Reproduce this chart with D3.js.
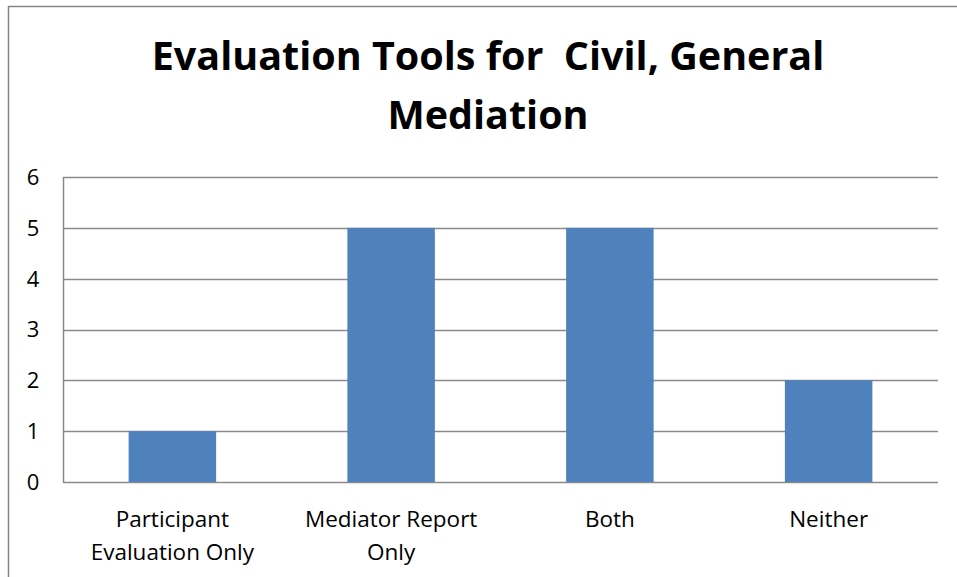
<!DOCTYPE html>
<html><head><meta charset="utf-8">
<script src="https://cdn.jsdelivr.net/npm/d3@7"></script>
<style>html,body{margin:0;padding:0;background:#fff;}svg{display:block;}</style>
</head><body>
<svg id="chart" width="957" height="577"></svg>
<script>
const categories = ["Participant Evaluation Only", "Mediator Report Only", "Both", "Neither"];
const categoryLines = [["Participant", "Evaluation Only"], ["Mediator Report", "Only"], ["Both"], ["Neither"]];
const values = [1, 5, 5, 2];
const yTicks = [0, 1, 2, 3, 4, 5, 6];
const titleLines = ["Evaluation Tools for  Civil, General", "Mediation"];

const svg = d3.select("#chart");
const W = 957, H = 577;
const m = {left: 63, right: 938, top: 177, bottom: 482};
const font = "'Open Sans', 'Noto Sans', sans-serif";

svg.append("rect").attr("width", W).attr("height", H).attr("fill", "#fff");
svg.append("rect").attr("x", 8.5).attr("y", 6.5).attr("width", 1000).attr("height", 700)
  .attr("fill", "none").attr("stroke", "#868686").attr("stroke-width", 1.5);

const x = d3.scaleBand().domain(categories).range([m.left, m.right]).paddingInner(0.6).paddingOuter(0.3);
const y = d3.scaleLinear().domain([0, 6]).range([m.bottom, m.top]);

// gridlines
svg.append("g").selectAll("line").data(yTicks).join("line")
  .attr("x1", m.left).attr("x2", m.right)
  .attr("y1", d => Math.round(y(d)) + 0.5).attr("y2", d => Math.round(y(d)) + 0.5)
  .attr("stroke", "#8a8a8a").attr("stroke-width", 1.5);
// vertical axis line
svg.append("line").attr("x1", m.left + 0.5).attr("x2", m.left + 0.5)
  .attr("y1", m.top).attr("y2", m.bottom + 1).attr("stroke", "#8a8a8a").attr("stroke-width", 1.5);

// bars
svg.append("g").selectAll("rect").data(values).join("rect")
  .attr("x", (d, i) => x(categories[i]))
  .attr("width", x.bandwidth())
  .attr("y", d => y(d))
  .attr("height", d => y(0) - y(d))
  .attr("fill", "#4F81BD");

// y tick labels
svg.append("g").selectAll("text").data(yTicks).join("text")
  .attr("x", 33).attr("y", d => y(d)).attr("dy", "0.36em")
  .attr("text-anchor", "middle").attr("font-family", font).attr("font-size", 22)
  .attr("fill", "#000").text(d => d);

// category labels
const cg = svg.append("g");
categoryLines.forEach((lines, i) => {
  const cx = x(categories[i]) + x.bandwidth() / 2;
  lines.forEach((ln, j) => {
    cg.append("text").attr("x", cx).attr("y", 527 + j * 32.5)
      .attr("text-anchor", "middle").attr("font-family", font).attr("font-size", 22.5)
      .attr("fill", "#000").text(ln);
  });
});

// title
const tg = svg.append("g");
titleLines.forEach((ln, j) => {
  tg.append("text").attr("x", 488).attr("y", 70 + j * 58.5)
    .attr("text-anchor", "middle").attr("font-family", font).attr("font-weight", "bold")
    .attr("font-size", 39.5).attr("fill", "#000").style("white-space", "pre").text(ln);
});
</script>
</body></html>
